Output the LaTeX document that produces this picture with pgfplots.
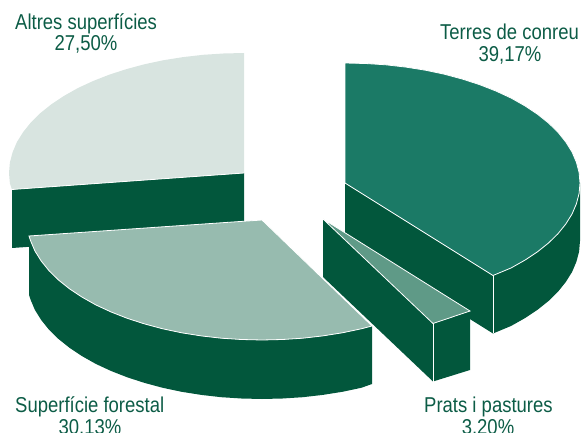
\documentclass[border=0pt]{standalone}
\usepackage{pgfplots}
\pgfplotsset{compat=1.18}
\usepackage{fontspec}
\setmainfont[FakeStretch=0.86]{Liberation Sans}
\definecolor{wall}{RGB}{2,87,60}
\definecolor{terres}{RGB}{27,122,102}
\definecolor{prats}{RGB}{95,154,135}
\definecolor{forest}{RGB}{151,187,175}
\definecolor{altres}{RGB}{216,228,224}
\definecolor{txt}{RGB}{12,92,70}
\tikzset{lbl/.style={font=\fontsize{21.5}{22}\selectfont,text=txt,inner sep=0pt}}
\begin{document}
\begin{tikzpicture}[x=1pt,y=1pt]
\path[use as bounding box] (0,0) rectangle (582,433);
\clip (0,0) rectangle (582,433);
\begin{axis}[at={(0,0)},anchor=south west,scale only axis,width=582pt,height=433pt,
  xmin=0,xmax=582,ymin=0,ymax=433,y dir=reverse,hide axis,clip=false]
% Altres superficies
\addplot[fill=wall,draw=none] coordinates {(244,173)(12,189.5)(12,248)(244,232)} --cycle;
\addplot[fill=altres,draw=none] coordinates {(244,173)(244,53)(223.5,53.5)(203.2,54.8)(183.2,57.1)(163.6,60.2)(144.7,64.2)(126.5,69.1)(109.2,74.7)(92.9,81.1)(77.8,88.1)(64,95.9)(51.5,104.2)(40.5,113)(31,122.3)(23.2,132)(17,141.9)(12.6,152.2)(9.9,162.5)(9,173)(9.9,183.5)(12,189.5)} --cycle;
\addplot[draw=white,line width=0.8pt] coordinates {(244,173)(12,189.5)};
% Superficie forestal
\addplot[fill=wall,draw=none] coordinates {(372,326)(361.3,328.8)(342.4,332.8)(322.8,335.9)(302.8,338.2)(282.5,339.5)(262,340)(241.5,339.5)(221.2,338.2)(201.2,335.9)(181.6,332.8)(162.7,328.8)(144.5,323.9)(127.2,318.3)(110.9,311.9)(95.8,304.9)(82,297.1)(69.5,288.8)(58.5,280)(49,270.7)(41.2,261)(35,251.1)(30.6,240.8)(29,236)
 (29,295)(30.6,299.8)(35,310.1)(41.2,320)(49,329.7)(58.5,339)(69.5,347.8)(82,356.1)(95.8,363.9)(110.9,370.9)(127.2,377.3)(144.5,382.9)(162.7,387.8)(181.6,391.8)(201.2,394.9)(221.2,397.2)(241.5,398.5)(262,399)(282.5,398.5)(302.8,397.2)(322.8,394.9)(342.4,391.8)(361.3,387.8)(372,384)} --cycle;
\addplot[fill=forest,draw=white,line width=0.8pt] coordinates {(262,220)(372,326)(361.3,328.8)(342.4,332.8)(322.8,335.9)(302.8,338.2)(282.5,339.5)(262,340)(241.5,339.5)(221.2,338.2)(201.2,335.9)(181.6,332.8)(162.7,328.8)(144.5,323.9)(127.2,318.3)(110.9,311.9)(95.8,304.9)(82,297.1)(69.5,288.8)(58.5,280)(49,270.7)(41.2,261)(35,251.1)(30.6,240.8)(29,236)} --cycle;
% Terres de conreu
\addplot[fill=wall,draw=none] coordinates {(345,183)(493,275.5)(493,333.5)(345,241)} --cycle;
\addplot[fill=wall,draw=none] coordinates {(580,183)(579.1,193.5)(576.4,203.8)(572,214.1)(565.8,224)(558,233.7)(548.5,243)(537.5,251.8)(525,260.1)(511.2,267.9)(493,275.5)(493,333.5)(511.2,325.9)(525,318.1)(537.5,309.8)(548.5,301)(558,291.7)(565.8,282)(572,272.1)(576.4,261.8)(579.1,251.5)(580,241)} --cycle;
\addplot[draw=white,line width=0.8pt] coordinates {(493,275.5)(493,333.5)};
\addplot[fill=terres,draw=white,line width=0.8pt] coordinates {(345,183)(345,63)(365.5,63.5)(385.8,64.8)(405.8,67.1)(425.4,70.2)(444.3,74.2)(462.5,79.1)(479.8,84.7)(496.1,91.1)(511.2,98.1)(525,105.9)(537.5,114.2)(548.5,123)(558,132.3)(565.8,142)(572,151.9)(576.4,162.2)(579.1,172.5)(580,183)(579.1,193.5)(576.4,203.8)(572,214.1)(565.8,224)(558,233.7)(548.5,243)(537.5,251.8)(525,260.1)(511.2,267.9)(493,275.5)} --cycle;
% Prats i pastures
\addplot[fill=wall,draw=none] coordinates {(323,219)(433,323.5)(433,381.5)(323,277)} --cycle;
\addplot[fill=wall,draw=none] coordinates {(433,323.5)(470,311)(470,370)(433,381.5)} --cycle;
\addplot[draw=white,line width=0.8pt] coordinates {(433,323.5)(433,381.5)};
\addplot[fill=prats,draw=white,line width=0.8pt] coordinates {(323,219)(470,311)(433,323.5)} --cycle;
% labels
\node[lbl,anchor=base west] at (axis cs:15,30) {Altres superfícies};
\node[lbl,anchor=base] at (axis cs:86,51) {27,50\%};
\node[lbl,anchor=base west] at (axis cs:440,40) {Terres de conreu};
\node[lbl,anchor=base] at (axis cs:510,62) {39,17\%};
\node[lbl,anchor=base west] at (axis cs:15,413) {Superfície forestal};
\node[lbl,anchor=base] at (axis cs:90,435) {30,13\%};
\node[lbl,anchor=base west] at (axis cs:424,412.5) {Prats i pastures};
\node[lbl,anchor=base] at (axis cs:488,434.5) {3,20\%};
\end{axis}
\end{tikzpicture}
\end{document}
